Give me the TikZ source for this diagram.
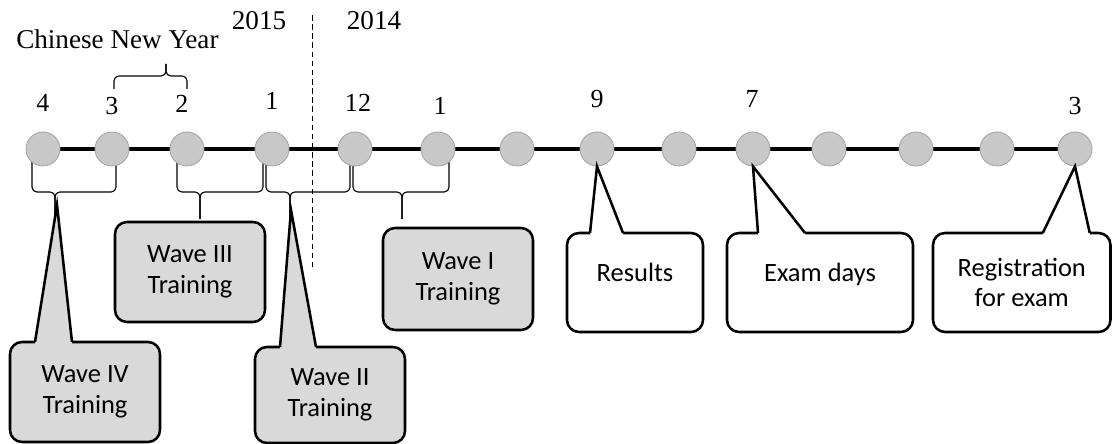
\documentclass[tikz,border=0pt]{standalone}
\usepackage{fontspec}
\setmainfont{Liberation Serif}
\newfontfamily\boxfont{Carlito}
\usetikzlibrary{calc,backgrounds}
\definecolor{DotClr}{RGB}{200,200,200}
\definecolor{DotLineClr}{RGB}{165,165,165}
\definecolor{WaveClr}{RGB}{217,217,217}
\newcommand{\pxu}{0.025cm}

\tikzset{
  dot/.style={circle,fill=DotClr,draw=DotLineClr,line width=0.6pt,minimum size=34*\pxu,inner sep=0pt},
  month/.style={anchor=base,font=\fontsize{18.5}{22}\selectfont,inner sep=0pt},
  yearlbl/.style={month,font=\fontsize{19.3}{23}\selectfont},
  callbox/.style={draw=black,line width=1.8pt,rounded corners=0.3cm,align=center,
    font=\boxfont\fontsize{18.8}{21.8}\selectfont,inner sep=0pt,outer sep=0pt},
  wavebox/.style={callbox,fill=WaveClr},
  eventbox/.style={callbox,fill=white},
  onerow/.style={text depth=0.52cm},
  bracepath/.style={line width=0.8pt,rounded corners=0.12cm},
  pointer/.style={line width=1.8pt,line join=miter},
}

% brace under the timeline: left end, right end, tip
\newcommand{\lowbrace}[3]{%
  \draw[bracepath] (#1,160) -- (#1,192) -- (#3,192) -- (#3,219);
  \draw[bracepath] (#2,160) -- (#2,192) -- (#3,192) -- (#3,219);}

% callout pointer: box, left and right foot (from box.north), tip, fill
\newcommand{\callptr}[5]{%
  \fill[#5] ($(#1.north)+(#2,2.5)$) -- ($(#1.north)+(#2,0)$) -- (#4)
    -- ($(#1.north)+(#3,0)$) -- ($(#1.north)+(#3,2.5)$) -- cycle;
  \draw[pointer] ($(#1.north)+(#2,0)$) -- (#4) -- ($(#1.north)+(#3,0)$);}

\begin{document}
\begin{tikzpicture}[x=0.025cm,y=-0.025cm]
\useasboundingbox (0,0) rectangle (1113,444);

\node[dot] (d1) at (43,149) {};
\node[dot] (d2) at (112,149) {};
\node[dot] (d3) at (187,149) {};
\node[dot] (d4) at (272,149) {};
\node[dot] (d5) at (355,149) {};
\node[dot] (d6) at (438,149) {};
\node[dot] (d7) at (517,149) {};
\node[dot] (d8) at (597,149) {};
\node[dot] (d9) at (679,149) {};
\node[dot] (d10) at (753,149) {};
\node[dot] (d11) at (829,149) {};
\node[dot] (d12) at (916,149) {};
\node[dot] (d13) at (997,149) {};
\node[dot] (d14) at (1075,149) {};

\begin{scope}[on background layer]
\draw[line width=2.2pt] (d1.center) -- (d14.center);
\lowbrace{32}{116}{55}
\lowbrace{177}{263}{200}
\lowbrace{266}{350}{290}
\lowbrace{353}{449}{402}
\end{scope}

\coordinate (tipIV) at (57,205);
\coordinate (tipII) at (291,210);

\draw[line width=0.7pt,dash pattern=on 4pt off 2.5pt] (312,15) -- (312,270);

\node[yearlbl,anchor=base west] (cny) at (16,49) {Chinese New Year};
\node[yearlbl] (yr15) at (259,30) {2015};
\node[yearlbl] (yr14) at (374,30) {2014};

\draw[bracepath] (114,89) -- (114,76) -- (166,76) -- (166,64);
\draw[bracepath] (187,89) -- (187,76) -- (166,76) -- (166,64);

\node[month] (m1) at (43,112) {4};
\node[month] (m2) at (112,115) {3};
\node[month] (m3) at (182,113) {2};
\node[month] (m4) at (272,110) {1};
\node[month] (m5) at (358,112) {12};
\node[month] (m6) at (440,115) {1};
\node[month] (m8) at (597,108) {9};
\node[month] (m10) at (752,108) {7};
\node[month] (m14) at (1075,115) {3};

\node[wavebox,minimum width=150*\pxu,minimum height=100*\pxu] (w4) at (85,392) {Wave IV\\Training};
\node[wavebox,minimum width=150*\pxu,minimum height=100*\pxu] (w3) at (190,272) {Wave III\\Training};
\node[wavebox,minimum width=150*\pxu,minimum height=96*\pxu] (w2) at (330,395) {Wave II\\Training};
\node[wavebox,minimum width=150*\pxu,minimum height=102*\pxu] (w1) at (458,279) {Wave I\\Training};
\node[eventbox,onerow,minimum width=136*\pxu,minimum height=99*\pxu] (rs) at (635,282.5) {Results};
\node[eventbox,onerow,minimum width=186*\pxu,minimum height=99*\pxu] (ed) at (820,282.5) {Exam days};
\node[eventbox,minimum width=177.5*\pxu,minimum height=99*\pxu] (rg) at (1021.75,282.5) {Registration\\for exam};

\callptr{w4}{-50}{-13}{tipIV}{WaveClr}
\callptr{w2}{-50}{-14}{tipII}{WaveClr}
\callptr{rs}{-45}{-12}{d8.south}{white}
\callptr{ed}{-62}{-15}{d10.south}{white}
\callptr{rg}{21}{68}{d14.south}{white}

\end{tikzpicture}
\end{document}
